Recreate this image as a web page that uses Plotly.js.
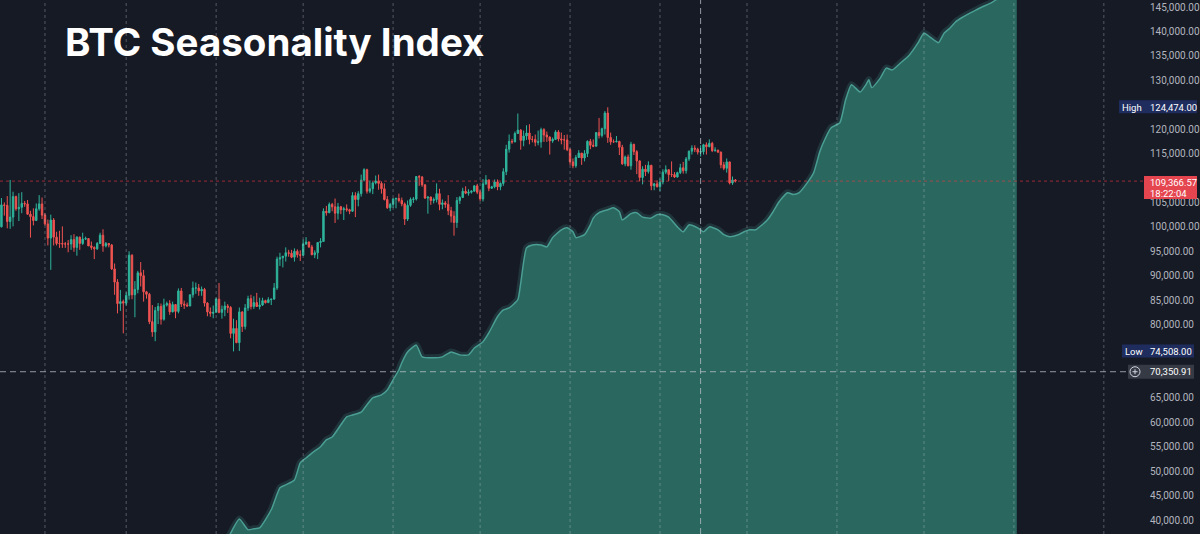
<!DOCTYPE html>
<html>
<head>
<meta charset="utf-8">
<script src="https://cdn.plot.ly/plotly-3.0.1.min.js"></script>
<style>
html,body{margin:0;padding:0;background:#161a25;overflow:hidden;}
#chart{width:1200px;height:534px;}
</style>
</head>
<body>
<div id="chart"></div>
<script>
// ---------- DATA (BTC daily candles, values in thousands of USD) ----------
const firstCandleDay = '2025-01-17';

const openK = [
 100.0,104.5,104.4,101.1,102.0,106.2,103.7,104.0,104.8,104.7,102.6,102.1,101.3,103.7,104.7,
 102.4,100.6,97.7,101.4,97.9,96.6,96.6,96.5,96.5,96.5,97.4,95.8,97.9,96.6,97.5,97.6,96.1,95.8,95.5,96.6,98.3,96.1,96.6,96.3,91.4,88.7,84.3,84.7,
 84.4,86.0,94.2,86.1,87.2,90.6,90.0,86.7,86.2,80.6,78.5,82.9,83.7,81.1,84.0,84.3,82.6,84.1,82.7,86.9,84.2,84.0,83.8,86.1,87.5,87.5,86.9,87.2,84.4,82.6,82.3,
 82.5,85.2,82.5,83.1,83.8,83.5,78.2,79.2,76.3,82.6,79.6,83.4,85.3,83.7,84.5,83.7,84.0,84.9,84.5,85.1,85.2,87.5,93.4,93.7,94.0,94.7,94.6,93.8,95.0,94.3,
 94.2,96.5,96.9,95.9,94.3,94.7,96.8,97.0,103.2,102.9,104.6,104.1,102.8,104.1,103.5,103.7,103.5,103.2,106.4,105.6,106.8,109.6,111.7,107.3,107.8,109.0,109.4,108.9,107.8,105.6,103.9,
 104.6,105.7,105.8,105.4,104.7,101.6,104.4,105.6,105.7,110.3,110.2,108.6,105.9,106.1,105.4,105.6,106.8,104.6,104.9,104.6,103.3,102.2,100.9,105.4,106.0,107.3,106.9,107.1,107.3,108.4,
 107.1,105.7,108.8,109.6,107.9,108.2,109.2,108.2,108.9,111.3,115.9,117.5,117.4,119.1,119.8,117.7,118.6,119.2,117.9,117.9,117.3,117.4,119.9,118.8,118.4,117.6,117.9,119.4,118.0,117.8,117.8,
 115.8,113.3,112.5,114.2,115.1,114.1,115.0,117.5,116.7,116.5,119.3,118.7,120.1,123.3,118.3,117.4,117.4,117.5,116.3,112.9,114.3,112.5,116.9,115.4,113.5,110.1,111.8,111.3,112.6,108.4,108.8,
 108.2,109.2,111.2,111.7,110.7,110.7,110.2,111.1,112.1,111.5,113.9,115.5,116.1,115.9,115.3,115.4,116.8,116.4,117.1,115.6,115.7,115.3,112.7,112.0,113.3,109.0,109.6
];
const highK = [
 105.9,105.0,106.3,109.6,107.2,106.4,106.9,107.1,105.3,105.5,103.3,103.8,104.8,106.5,106.0,
 102.8,101.5,102.5,101.8,99.0,99.2,100.1,96.9,97.3,98.3,98.5,98.1,98.0,98.8,98.0,97.7,97.0,96.0,96.9,98.8,99.5,96.9,96.7,96.5,92.5,89.3,87.1,85.1,
 86.6,95.0,94.4,88.9,91.0,92.8,91.2,86.9,86.5,84.0,83.6,84.4,84.3,85.3,84.7,85.0,84.7,84.1,87.4,87.5,84.9,84.5,86.1,88.8,88.6,88.3,87.8,87.5,84.6,83.5,83.9,
 85.5,88.5,83.9,84.7,84.2,83.8,81.2,80.9,83.5,82.7,84.2,85.9,86.1,85.8,86.5,85.5,85.5,85.1,85.6,85.3,88.5,93.9,94.7,94.0,95.8,95.3,95.3,95.6,95.4,95.2,
 97.4,97.9,97.0,96.3,95.2,96.9,97.7,103.8,104.3,105.0,104.9,105.8,104.9,104.3,104.1,104.6,103.7,107.1,107.1,107.3,110.7,112.0,111.9,109.5,109.3,110.5,110.7,109.3,108.9,106.3,104.9,
 105.9,106.0,106.8,106.0,105.0,105.4,106.0,106.1,110.4,110.6,110.4,108.7,106.2,106.2,106.0,108.9,107.8,105.6,105.3,106.5,104.1,103.2,106.1,106.3,108.0,108.3,107.7,107.5,108.5,108.8,
 107.5,109.8,110.6,109.7,108.4,109.7,109.7,109.1,112.0,116.8,118.9,118.0,119.5,123.2,120.0,119.7,120.8,121.0,118.6,118.9,119.7,120.3,120.2,119.5,118.5,118.3,119.8,119.8,119.3,118.8,118.9,
 116.1,114.0,114.7,115.7,115.1,115.7,117.7,118.0,117.9,119.3,122.3,120.3,123.7,124.474,119.3,117.9,118.6,117.6,116.8,114.6,114.8,117.4,117.0,115.7,113.6,112.4,112.7,113.4,112.7,109.0,109.5,
 109.9,111.8,112.6,111.7,113.4,111.2,111.3,112.9,113.3,114.3,115.6,116.7,116.7,116.2,116.7,117.0,117.3,117.9,117.4,116.3,115.8,115.4,113.3,114.0,113.3,110.3,109.8
];
const lowK = [
 99.9,102.3,99.7,99.6,100.1,103.3,101.2,102.8,104.1,102.5,97.8,100.3,101.3,103.3,101.6,
 100.3,96.2,91.2,96.2,96.2,95.7,95.7,95.7,94.8,95.3,94.9,94.1,95.3,96.3,97.3,96.1,95.3,93.4,95.3,96.5,94.9,95.8,95.8,91.2,86.1,82.3,82.8,78.2,
 83.9,85.1,85.2,81.5,86.4,87.8,84.7,85.3,80.1,77.5,76.6,80.1,80.0,80.8,83.7,82.0,82.5,81.3,82.3,83.6,83.2,83.7,83.8,85.5,86.3,85.9,85.9,83.7,81.7,81.6,81.3,
 82.5,82.3,81.2,81.7,82.4,77.2,74.508,76.2,74.6,78.5,79.0,82.8,83.1,83.2,83.6,83.1,83.8,84.3,84.4,84.0,85.2,87.1,92.0,91.7,92.9,93.9,93.6,92.9,93.7,93.0,
 94.1,96.3,95.7,94.2,93.6,93.4,95.8,96.9,102.3,102.8,103.2,100.8,101.5,102.6,101.4,103.1,102.6,103.1,102.0,104.2,106.2,109.3,106.8,106.9,106.7,108.7,107.6,106.8,105.4,103.7,103.2,
 103.9,103.8,105.0,104.2,100.4,101.2,104.1,104.9,105.4,108.4,108.2,105.7,102.7,104.5,104.8,105.0,103.4,103.6,103.9,102.4,100.9,98.2,99.8,104.7,105.9,106.7,106.4,106.8,107.2,106.7,
 105.3,105.2,108.6,107.3,107.8,107.9,107.5,107.5,108.4,110.6,115.2,117.0,117.3,119.0,115.8,116.5,117.8,116.9,117.3,116.5,116.7,116.2,117.4,117.4,114.8,117.2,117.9,117.5,116.9,115.8,115.5,
 112.7,112.0,112.1,114.1,112.7,113.4,114.3,115.9,116.3,116.5,118.1,118.3,118.9,117.2,116.8,117.2,117.3,114.7,112.7,112.4,112.4,111.7,114.7,110.8,109.3,108.7,110.4,110.9,107.5,107.5,108.1,
 107.3,108.7,110.8,109.4,110.2,110.0,110.1,110.8,110.9,110.9,113.5,114.8,115.3,114.8,114.4,114.8,114.8,116.3,115.3,115.4,115.1,112.0,111.6,111.1,108.7,108.6,109.1
];
const closeK = [
 104.5,104.4,101.1,102.0,106.2,103.7,104.0,104.8,104.7,102.6,102.1,101.3,103.7,104.7,102.4,
 100.6,97.7,101.4,97.9,96.6,96.6,96.5,96.5,96.5,97.4,95.8,97.9,96.6,97.5,97.6,96.1,95.8,95.5,96.6,98.3,96.1,96.6,96.3,91.4,88.7,84.3,84.7,84.4,
 86.0,94.2,86.1,87.2,90.6,90.0,86.7,86.2,80.6,78.5,82.9,83.7,81.1,84.0,84.3,82.6,84.1,82.7,86.9,84.2,84.0,83.8,86.1,87.5,87.5,86.9,87.2,84.4,82.6,82.3,82.5,
 85.2,82.5,83.1,83.8,83.5,78.2,79.2,76.3,82.6,79.6,83.4,85.3,83.7,84.5,83.7,84.0,84.9,84.5,85.1,85.2,87.5,93.4,93.7,94.0,94.7,94.6,93.8,95.0,94.3,94.2,
 96.5,96.9,95.9,94.3,94.7,96.8,97.0,103.2,102.9,104.6,104.1,102.8,104.1,103.5,103.7,103.5,103.2,106.4,105.6,106.8,109.6,111.7,107.3,107.8,109.0,109.4,108.9,107.8,105.6,103.9,104.6,
 105.7,105.8,105.4,104.7,101.6,104.4,105.6,105.7,110.3,110.2,108.6,105.9,106.1,105.4,105.6,106.8,104.6,104.9,104.6,103.3,102.2,100.9,105.4,106.0,107.3,106.9,107.1,107.3,108.4,107.1,
 105.7,108.8,109.6,107.9,108.2,109.2,108.2,108.9,111.3,115.9,117.5,117.4,119.1,119.8,117.7,118.6,119.2,117.9,117.9,117.3,117.4,119.9,118.8,118.4,117.6,117.9,119.4,118.0,117.8,117.8,115.8,
 113.3,112.5,114.2,115.1,114.1,115.0,117.5,116.7,116.5,119.3,118.7,120.1,123.3,118.3,117.4,117.4,117.5,116.3,112.9,114.3,112.5,116.9,115.4,113.5,110.1,111.8,111.3,112.6,108.4,108.8,108.2,
 109.2,111.2,111.7,110.7,110.7,110.2,111.1,112.1,111.5,113.9,115.5,116.1,115.9,115.3,115.4,116.8,116.4,117.1,115.6,115.7,115.3,112.7,112.0,113.3,109.0,109.6,109.366
];

// ---------- DATA (seasonality index, read at sampled dates, thousands) ----------
const seasonDates = [
 '2025-04-05','2025-04-06','2025-04-09','2025-04-12','2025-04-14','2025-04-16','2025-04-20','2025-04-23','2025-04-25','2025-04-28','2025-04-30',
 '2025-05-02','2025-05-04','2025-05-07','2025-05-09','2025-05-11','2025-05-14','2025-05-16','2025-05-18','2025-05-21','2025-05-23','2025-05-25','2025-05-28','2025-05-30',
 '2025-06-01','2025-06-03','2025-06-04','2025-06-06','2025-06-09','2025-06-11','2025-06-15','2025-06-18','2025-06-21','2025-06-24','2025-06-27','2025-06-29',
 '2025-07-02','2025-07-04','2025-07-07','2025-07-09','2025-07-11','2025-07-14','2025-07-15','2025-07-17','2025-07-19','2025-07-22','2025-07-24','2025-07-26','2025-07-29','2025-07-31',
 '2025-08-02','2025-08-03','2025-08-06','2025-08-08','2025-08-09','2025-08-11','2025-08-14','2025-08-16','2025-08-18','2025-08-19','2025-08-22','2025-08-24','2025-08-26','2025-08-29','2025-08-31',
 '2025-09-02','2025-09-04','2025-09-07','2025-09-09','2025-09-11','2025-09-14','2025-09-16','2025-09-18','2025-09-21','2025-09-23','2025-09-25','2025-09-28','2025-09-30',
 '2025-10-02','2025-10-04','2025-10-08','2025-10-10','2025-10-12','2025-10-15','2025-10-17','2025-10-19','2025-10-22','2025-10-24','2025-10-26','2025-10-27','2025-10-30',
 '2025-11-02','2025-11-04','2025-11-06','2025-11-09','2025-11-11','2025-11-12','2025-11-13','2025-11-16','2025-11-18','2025-11-20','2025-11-23','2025-11-26','2025-11-29',
 '2025-12-01','2025-12-03','2025-12-06','2025-12-08','2025-12-10','2025-12-12','2025-12-14','2025-12-17','2025-12-19','2025-12-21','2025-12-24','2025-12-26','2025-12-29','2025-12-31','2026-01-02'
];
const seasonK = [
 36.0,37.3,40.2,38.0,38.2,38.4,42.1,46.6,47.2,48.2,51.7,
 52.7,53.7,55.0,56.4,57.0,59.5,61.1,61.5,62.1,63.6,65.0,65.6,66.6,
 68.7,70.7,72.2,74.4,75.8,73.4,73.2,73.4,74.4,73.8,73.8,75.2,
 76.5,78.3,81.6,83.0,83.4,85.1,88.5,95.7,96.3,96.3,95.9,97.8,99.4,99.8,
 99.0,97.8,98.4,100.4,101.8,102.9,103.5,103.9,103.1,101.4,102.7,102.9,102.0,101.8,102.5,
 102.5,102.0,100.0,99.0,100.4,99.8,99.0,100.0,99.4,98.4,98.0,98.4,99.0,
 99.4,99.4,101.4,103.1,105.1,107.0,106.6,107.0,109.2,111.1,115.2,116.8,120.3,
 121.3,126.0,129.1,127.6,129.1,130.1,128.5,130.5,132.5,132.1,133.6,135.2,137.7,
 139.7,138.9,137.7,139.7,140.7,142.0,142.8,143.8,144.4,145.0,145.8,146.5,147.1,147.5,147.5
];

// ---------- DATA (price scale and labels) ----------
// price-scale labels that stay visible (the others sit under the price boxes)
const yTickVals = [40000,45000,50000,55000,60000,65000,80000,85000,90000,95000,
                   100000,105000,115000,120000,130000,135000,140000,145000];
const lastPrice = 109366.57;
const lastPriceTime = '18:22:04';
const highValue = 124474.00;
const lowValue = 74508.00;
const crossPrice = 70350.91;
const crossDate = '2025-09-15';
const titleText = 'BTC Seasonality Index';

// ---------- BUILD ----------
const fmt = v => v.toLocaleString('en-US', {minimumFractionDigits: 2, maximumFractionDigits: 2});
const k = a => a.map(v => v * 1000);

const startMs = Date.parse(firstCandleDay + 'T00:00:00Z');
const candleDates = closeK.map((_, i) => new Date(startMs + i * 86400000).toISOString().slice(0, 10));

const BG = '#161a25';
const GREEN = '#2fb59c';
const RED = '#ef5350';
const TEAL_FILL = '#29675f';
const TEAL_LINE = '#4a9e93';

const seasonY = k(seasonK);

const traces = [
  { type: 'scatter', mode: 'lines', x: seasonDates, y: seasonY,
    line: {color: 'rgba(90,190,175,0.16)', width: 7, shape: 'spline', smoothing: 0.5},
    hoverinfo: 'skip', showlegend: false },
  { type: 'scatter', mode: 'lines', x: seasonDates, y: seasonY, fill: 'tozeroy',
    fillcolor: TEAL_FILL,
    line: {color: TEAL_LINE, width: 1.5, shape: 'spline', smoothing: 0.5},
    hoverinfo: 'skip', showlegend: false },
  { type: 'candlestick', x: candleDates,
    open: k(openK), high: k(highK), low: k(lowK), close: k(closeK),
    increasing: {line: {color: GREEN, width: 1}, fillcolor: GREEN},
    decreasing: {line: {color: RED, width: 1}, fillcolor: RED},
    whiskerwidth: 0, hoverinfo: 'skip', showlegend: false }
];

// month grid lines (dotted verticals)
const gridShapes = [];
for (let m = 1; m <= 13; m++) {
  const y = 2025 + Math.floor(m / 12), mo = (m % 12) + 1;
  const d = `${y}-${String(mo).padStart(2, '0')}-01`;
  gridShapes.push({type: 'line', xref: 'x', yref: 'paper', x0: d, x1: d, y0: 0, y1: 1,
    line: {color: 'rgba(200,204,214,0.35)', width: 1, dash: 'dot'}, layer: 'above'});
}

const PW = 1143; // plot area width in px
const shapes = gridShapes.concat([
  // current price dotted line
  {type: 'line', xref: 'paper', yref: 'y', x0: 0, x1: 1, y0: lastPrice, y1: lastPrice,
   line: {color: 'rgba(242,54,69,0.6)', width: 1, dash: 'dot'}, layer: 'above'},
  // crosshair horizontal
  {type: 'line', xref: 'paper', yref: 'y', x0: 0, x1: 1128 / PW, y0: crossPrice, y1: crossPrice,
   line: {color: 'rgba(190,194,204,0.75)', width: 1, dash: '6px,4px'}, layer: 'above'},
  // crosshair vertical
  {type: 'line', xref: 'x', yref: 'paper', x0: crossDate, x1: crossDate, y0: 0, y1: 1,
   line: {color: 'rgba(190,194,204,0.75)', width: 1, dash: '6px,4px'}, layer: 'above'},
  // High label box
  {type: 'rect', xref: 'paper', yref: 'y', xsizemode: 'pixel', ysizemode: 'pixel',
   xanchor: 1, yanchor: highValue, x0: -24, x1: 54, y0: -6, y1: 7,
   fillcolor: '#1e2c5e', line: {width: 0}, layer: 'above'},
  // Low label box
  {type: 'rect', xref: 'paper', yref: 'y', xsizemode: 'pixel', ysizemode: 'pixel',
   xanchor: 1, yanchor: lowValue, x0: -21, x1: 51, y0: -6, y1: 7,
   fillcolor: '#1e2c5e', line: {width: 0}, layer: 'above'},
  // last price box
  {type: 'rect', xref: 'paper', yref: 'y', xsizemode: 'pixel', ysizemode: 'pixel',
   xanchor: 1, yanchor: lastPrice, x0: 1, x1: 54, y0: -18, y1: 5,
   fillcolor: '#e5454f', line: {width: 0}, layer: 'above'},
  // crosshair price box
  {type: 'rect', xref: 'paper', yref: 'y', xsizemode: 'pixel', ysizemode: 'pixel',
   xanchor: 1, yanchor: crossPrice, x0: -15, x1: 51, y0: -7, y1: 7,
   fillcolor: '#363a45', line: {width: 0}, layer: 'above'},
  // plus circle
  {type: 'circle', xref: 'paper', yref: 'y', xsizemode: 'pixel', ysizemode: 'pixel',
   xanchor: 1, yanchor: crossPrice, x0: -13, x1: -3, y0: -5, y1: 5,
   line: {color: '#d1d4dc', width: 1}, layer: 'above'},
  {type: 'line', xref: 'paper', yref: 'y', xsizemode: 'pixel', ysizemode: 'pixel',
   xanchor: 1, yanchor: crossPrice, x0: -10.5, x1: -5.5, y0: 0, y1: 0,
   line: {color: '#d1d4dc', width: 1}, layer: 'above'},
  {type: 'line', xref: 'paper', yref: 'y', xsizemode: 'pixel', ysizemode: 'pixel',
   xanchor: 1, yanchor: crossPrice, x0: -8, x1: -8, y0: -2.5, y1: 2.5,
   line: {color: '#d1d4dc', width: 1}, layer: 'above'}
]);

const lblFont = {family: 'Roboto, Arial, sans-serif', size: 9.5, color: '#ffffff'};
const lbl = (text, shift, yv, yshift, color) => ({
  xref: 'paper', yref: 'y', x: 1, y: yv, xanchor: 'left', yanchor: 'middle',
  xshift: shift, yshift: yshift || 0, text: text, showarrow: false,
  font: Object.assign({}, lblFont, color ? {color: color} : {})
});

const annotations = [
  {xref: 'paper', yref: 'paper', x: 63 / PW, y: 1 - 41.5 / 534, xanchor: 'left', yanchor: 'middle',
   text: titleText, showarrow: false,
   font: {family: 'Inter, "Open Sans", sans-serif', size: 38.5, color: '#ffffff', weight: 700}},
  lbl('High', -23, highValue, 0),
  lbl(fmt(highValue), 5, highValue, 0),
  lbl('Low', -20, lowValue, 0),
  lbl(fmt(lowValue), 5, lowValue, 0),
  lbl(fmt(lastPrice), 5, lastPrice, -1),
  lbl(lastPriceTime, 5, lastPrice, -12),
  lbl(fmt(crossPrice), 5, crossPrice, 0)
];

const layout = {
  width: 1200, height: 534,
  margin: {l: 0, r: 1200 - PW, t: 0, b: 0, pad: 0},
  paper_bgcolor: BG, plot_bgcolor: BG,
  showlegend: false,
  dragmode: false,
  xaxis: {type: 'date', range: ['2025-01-16 12:00', '2026-02-14 12:00'],
          showgrid: false, showticklabels: false, zeroline: false, showline: false,
          rangeslider: {visible: false}, fixedrange: true},
  yaxis: {side: 'right', range: [37140, 146433], tickmode: 'array',
          tickvals: yTickVals, ticktext: yTickVals.map(fmt),
          showgrid: false, zeroline: false, showline: false, ticks: '',
          ticklabelstandoff: 6,
          tickfont: {family: 'Roboto, Arial, sans-serif', size: 10, color: '#b2b5be'},
          fixedrange: true},
  shapes: shapes,
  annotations: annotations
};

Plotly.newPlot('chart', traces, layout, {displayModeBar: false, staticPlot: true});
</script>
</body>
</html>
